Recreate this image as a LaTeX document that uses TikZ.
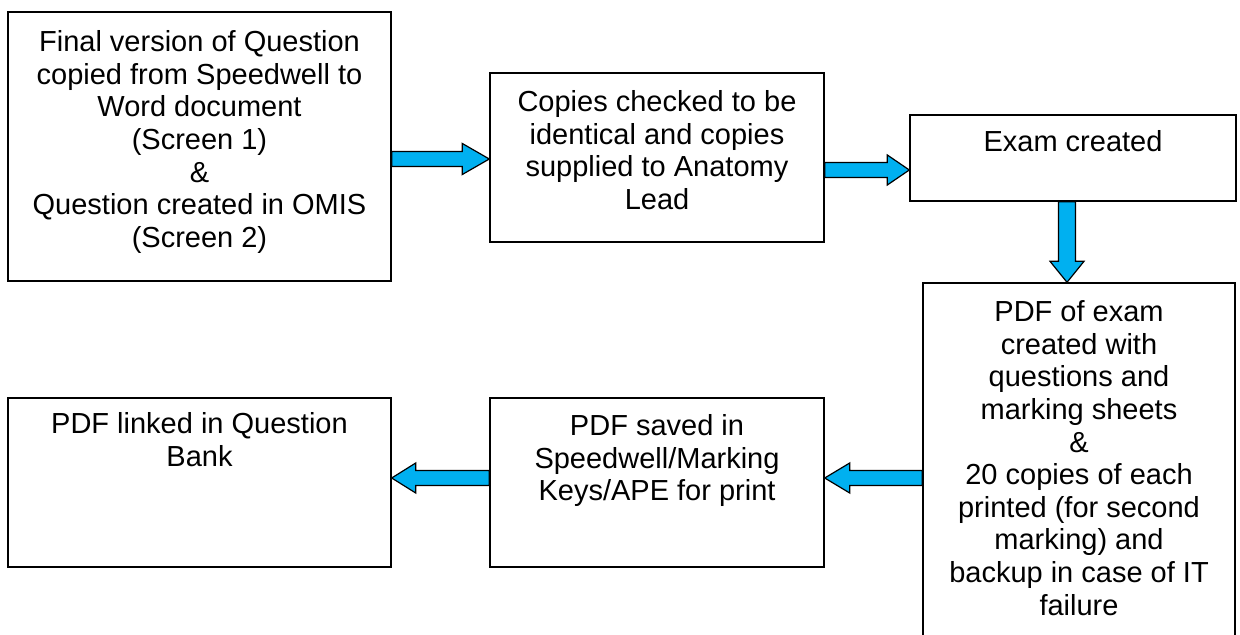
\documentclass[tikz,border=0pt]{standalone}
\usepackage{fontspec}
\setmainfont{Liberation Sans}
\usetikzlibrary{calc,fit}
\definecolor{arrowblue}{RGB}{0,176,240}

% Horizontal block arrow: tail, tip, shaft half-width, head half-width, head length (signed)
\newcommand\hblock[5]{%
  \draw[blockarrow] ($(#1)+(0,{-(#3)})$) -- ($(#2)+({-(#5)},{-(#3)})$)
    -- ($(#2)+({-(#5)},{-(#4)})$) -- (#2) -- ($(#2)+({-(#5)},{#4})$)
    -- ($(#2)+({-(#5)},{#3})$) -- ($(#1)+(0,{#3})$) -- cycle;}
% Vertical block arrow (pointing towards larger y, i.e. downwards)
\newcommand\vblock[5]{%
  \draw[blockarrow] ($(#1)+({-(#3)},0)$) -- ($(#2)+({-(#3)},{-(#5)})$)
    -- ($(#2)+({-(#4)},{-(#5)})$) -- (#2) -- ($(#2)+({#4},{-(#5)})$)
    -- ($(#2)+({#3},{-(#5)})$) -- ($(#1)+({#3},0)$) -- cycle;}

\tikzset{
  stepbox/.style={draw=black, line width=0.7pt, inner sep=0pt, fill=white},
  boxtext/.style={anchor=north, align=center, inner sep=0pt,
    font=\fontsize{14.5}{16.3}\selectfont},
  blockarrow/.style={draw=black, line width=0.6pt, fill=arrowblue, line join=miter},
}

\begin{document}
\begin{tikzpicture}[x=0.5pt, y=-0.5pt]
  \useasboundingbox (0,0) rectangle (1240,635);
  \clip (0,0) rectangle (1240,635);
  \fill[white] (0,0) rectangle (1240,635);

  % Boxes
  \node[stepbox, fit={(8,12) (391,281)}] (b1) {};
  \node[stepbox, fit={(490,73) (824,242)}] (b2) {};
  \node[stepbox, fit={(910,115) (1236,201)}] (b3) {};
  \node[stepbox, fit={(923,283) (1235,720)}] (b4) {};
  \node[stepbox, fit={(490,398) (824,567)}] (b5) {};
  \node[stepbox, fit={(8,398) (391,567)}] (b6) {};

  % Texts
  \node[boxtext] (t1) at ($(b1.north)+(0,19)$)
    {Final version of Question\\copied from Speedwell to\\Word document\\(Screen 1)\\\&\\Question created in OMIS\\(Screen 2)};
  \node[boxtext] (t2) at ($(b2.north)+(0,18)$)
    {Copies checked to be\\identical and copies\\supplied to Anatomy\\Lead};
  \node[boxtext] (t3) at ($(b3.north)+(0,16)$) {Exam created};
  \node[boxtext] (t4) at ($(b4.north)+(0,18)$)
    {PDF of exam\\created with\\questions and\\marking sheets\\\&\\20 copies of each\\printed (for second\\marking) and\\backup in case of IT\\failure};
  \node[boxtext] (t5) at ($(b5.north)+(0,17)$)
    {PDF saved in\\Speedwell/Marking\\Keys/APE for print};
  \node[boxtext] (t6) at ($(b6.north)+(0,15)$)
    {PDF linked in Question\\Bank};

  % Arrow end points on the box borders
  \coordinate (a1s) at (b1.east |- 0,159);
  \coordinate (a1e) at (b2.west |- 0,159);
  \coordinate (a2s) at (b2.east |- 0,170);
  \coordinate (a2e) at (b3.west |- 0,170);
  \coordinate (a3s) at (b3.south -| 1067,0);
  \coordinate (a3e) at (b4.north -| 1067,0);
  \coordinate (a4s) at (b4.west |- 0,478);
  \coordinate (a4e) at (b5.east |- 0,478);
  \coordinate (a5s) at (b5.west |- 0,478);
  \coordinate (a5e) at (b6.east |- 0,478);

  % Block arrows
  \hblock{a1s}{a1e}{7.5}{15.5}{27}
  \hblock{a2s}{a2e}{7.5}{15}{22}
  \vblock{a3s}{a3e}{8.5}{17}{21}
  \hblock{a4s}{a4e}{7.5}{15}{-25}
  \hblock{a5s}{a5e}{7.5}{15}{-24}
\end{tikzpicture}
\end{document}
